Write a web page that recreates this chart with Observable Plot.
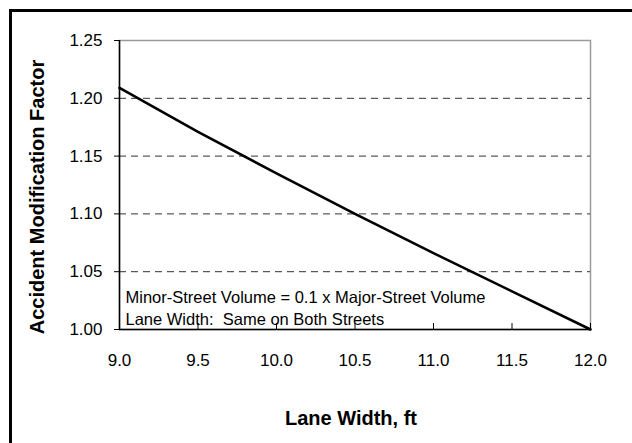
<!DOCTYPE html>
<html><head><meta charset="utf-8">
<script src="https://cdn.jsdelivr.net/npm/d3@7"></script>
<script src="https://cdn.jsdelivr.net/npm/@observablehq/plot@0.6"></script>
<style>
html,body{margin:0;padding:0;background:#fff;}
#wrap{position:relative;width:632px;height:443px;overflow:hidden;}
#border{position:absolute;left:9px;top:9px;width:640px;height:450px;border-left:3px solid #000;border-top:3px solid #000;pointer-events:none;}
</style></head><body>
<div id="wrap"><div id="chart"></div><div id="border"></div></div>
<script>
const laneWidth = [9.0, 9.5, 10.0, 10.5, 11.0, 11.5, 12.0];
const amf = [1.209, 1.171, 1.135, 1.100, 1.066, 1.033, 1.000];
const xTicks = [9.0, 9.5, 10.0, 10.5, 11.0, 11.5, 12.0];
const yTicks = [1.00, 1.05, 1.10, 1.15, 1.20, 1.25];
const gridValues = [1.05, 1.10, 1.15, 1.20];
const xTitle = "Lane Width, ft";
const yTitle = "Accident Modification Factor";
const noteLines = ["Minor-Street Volume = 0.1 x Major-Street Volume", "Lane Width:\u00a0 Same on Both Streets"];

const data = laneWidth.map((x, i) => ({x, y: amf[i]}));
const xDomain = [xTicks[0], xTicks[xTicks.length - 1]];
const yDomain = [yTicks[0], yTicks[yTicks.length - 1]];

const chart = Plot.plot({
  width: 632,
  height: 443,
  marginLeft: 119,
  marginRight: 42,
  marginTop: 40,
  marginBottom: 114,
  style: {fontFamily: "'Liberation Sans', Arial, sans-serif", fontSize: "16.5px", background: "#fff", color: "#000"},
  x: {domain: xDomain},
  y: {domain: yDomain},
  marks: [
    Plot.frame({stroke: "#9a9a9a", strokeWidth: 1.5}),
    Plot.ruleY(gridValues, {stroke: "#333", strokeWidth: 1, strokeDasharray: "7,5"}),
    Plot.ruleX([xDomain[0]], {stroke: "#000", strokeWidth: 1.5}),
    Plot.ruleY([yDomain[0]], {stroke: "#000", strokeWidth: 1.5}),
    Plot.axisY({ticks: yTicks, tickFormat: d3.format(".2f"), tickSize: 5, tickPadding: 12, fontSize: 17, label: null}),
    Plot.axisX({ticks: xTicks, tickFormat: d3.format(".1f"), tickSize: -6, tickPadding: 30, fontSize: 17, label: null}),
    Plot.line(data, {x: "x", y: "y", stroke: "#000", strokeWidth: 2.6}),
    Plot.text([noteLines.join("\n")], {frameAnchor: "bottom-left", dx: 6, dy: -23, textAnchor: "start", lineAnchor: "middle", lineHeight: 1.35, fontSize: 16.5, fill: "#000"}),
    Plot.text([xTitle], {frameAnchor: "bottom", dx: -4, dy: 89, textAnchor: "middle", lineAnchor: "middle", fontSize: 20, fontWeight: "bold", fill: "#000"}),
    Plot.text([yTitle], {frameAnchor: "left", dx: -82, dy: 12, rotate: -90, textAnchor: "middle", lineAnchor: "middle", fontSize: 20, fontWeight: "bold", fill: "#000"})
  ]
});
document.getElementById("chart").appendChild(chart);
</script>
</body></html>
